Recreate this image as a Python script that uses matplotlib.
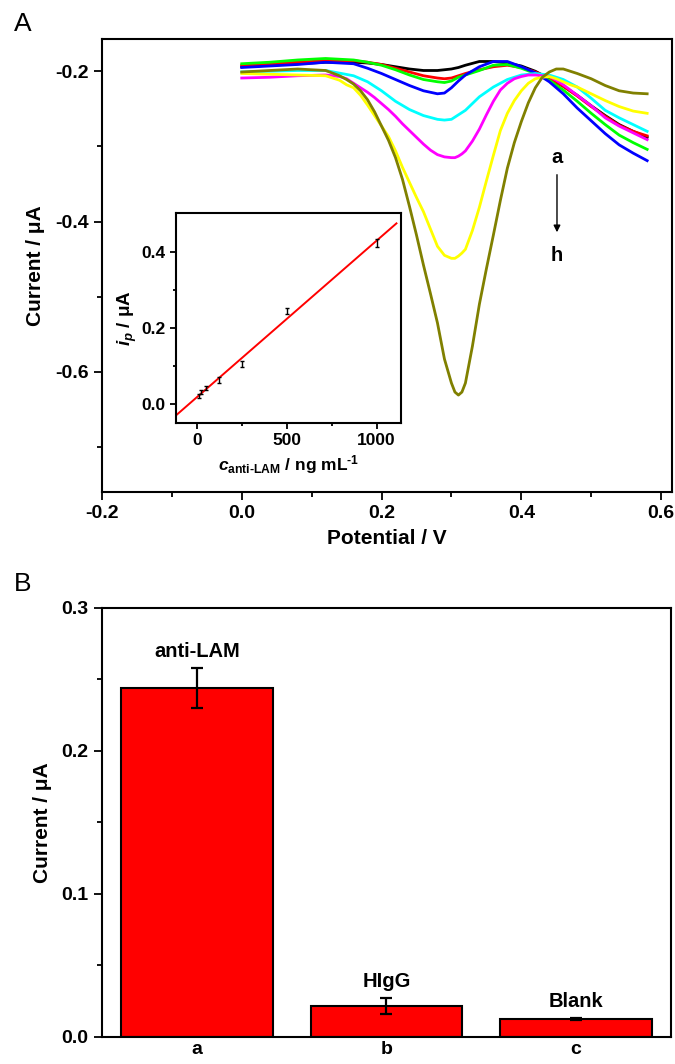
import numpy as np
import matplotlib
matplotlib.use('Agg')
import matplotlib.pyplot as plt

plt.rcParams['font.family'] = ['Liberation Sans', 'DejaVu Sans']
plt.rcParams['font.weight'] = 'bold'
plt.rcParams['axes.unicode_minus'] = False
plt.rcParams['mathtext.fontset'] = 'custom'
plt.rcParams['mathtext.it'] = 'Liberation Sans:italic:bold'
plt.rcParams['mathtext.rm'] = 'Liberation Sans:bold'
plt.rcParams['mathtext.bf'] = 'Liberation Sans:bold'

# Panel A: DPV curves a-h (potential / V, current / uA)
potential = [0.00, 0.04, 0.08, 0.12, 0.16, 0.18, 0.20, 0.22, 0.24, 0.26, 0.28, 0.29, 0.30, 0.31,
             0.32, 0.34, 0.36, 0.38, 0.40, 0.42, 0.44, 0.46, 0.48, 0.50, 0.52, 0.54, 0.56, 0.58]
curve_a = [-0.194, -0.192, -0.190, -0.188, -0.188, -0.189, -0.191, -0.194, -0.197, -0.199, -0.199, -0.198, -0.197, -0.195,
           -0.192, -0.187, -0.187, -0.189, -0.193, -0.200, -0.210, -0.220, -0.232, -0.246, -0.259, -0.271, -0.280, -0.288]
curve_b = [-0.192, -0.190, -0.188, -0.186, -0.186, -0.188, -0.191, -0.196, -0.201, -0.206, -0.209, -0.210, -0.209, -0.206,
           -0.203, -0.198, -0.194, -0.192, -0.195, -0.201, -0.209, -0.220, -0.233, -0.247, -0.260, -0.272, -0.280, -0.286]
curve_c = [-0.190, -0.188, -0.185, -0.183, -0.185, -0.188, -0.192, -0.198, -0.205, -0.211, -0.214, -0.215, -0.213, -0.208,
           -0.205, -0.199, -0.192, -0.191, -0.196, -0.203, -0.212, -0.225, -0.240, -0.256, -0.271, -0.285, -0.295, -0.304]
curve_d = [-0.195, -0.193, -0.191, -0.188, -0.190, -0.196, -0.203, -0.211, -0.219, -0.226, -0.230, -0.229, -0.222, -0.213,
           -0.205, -0.194, -0.187, -0.187, -0.194, -0.202, -0.214, -0.230, -0.249, -0.266, -0.283, -0.298, -0.309, -0.319]
curve_e = [-0.201, -0.200, -0.199, -0.199, -0.206, -0.214, -0.226, -0.240, -0.251, -0.259, -0.264, -0.265, -0.264, -0.258,
           -0.252, -0.234, -0.221, -0.211, -0.205, -0.203, -0.205, -0.211, -0.221, -0.236, -0.252, -0.262, -0.271, -0.280]

# curves f-h have sharper peaks, read at a finer step
potential_fine = [0.00, 0.04, 0.08, 0.12,
                  0.14, 0.15, 0.16, 0.17, 0.18, 0.19, 0.20, 0.21, 0.22, 0.23, 0.24, 0.25, 0.26, 0.27,
                  0.28, 0.29, 0.30, 0.305, 0.31, 0.315, 0.32, 0.33, 0.34, 0.35, 0.36, 0.37, 0.38, 0.39, 0.40, 0.41,
                  0.42, 0.43, 0.44, 0.45, 0.46, 0.47, 0.48,
                  0.50, 0.52, 0.54, 0.56, 0.58]
curve_f = [-0.209, -0.208, -0.206, -0.205,
           -0.207, -0.210, -0.216, -0.222, -0.228, -0.235, -0.243, -0.251, -0.260, -0.270, -0.279, -0.288, -0.297, -0.305,
           -0.311, -0.314, -0.315, -0.315, -0.313, -0.310, -0.306, -0.293, -0.277, -0.258, -0.240, -0.225, -0.216, -0.210, -0.207, -0.205,
           -0.205, -0.206, -0.207, -0.212, -0.218, -0.225, -0.232,
           -0.246, -0.262, -0.273, -0.282, -0.291]
curve_g = [-0.203, -0.204, -0.205, -0.206,
           -0.212, -0.218, -0.222, -0.232, -0.245, -0.259, -0.273, -0.287, -0.306, -0.328, -0.348, -0.368, -0.387, -0.410,
           -0.433, -0.445, -0.449, -0.449, -0.446, -0.442, -0.437, -0.412, -0.381, -0.346, -0.312, -0.279, -0.256, -0.239, -0.226, -0.216,
           -0.210, -0.208, -0.207, -0.210, -0.214, -0.218, -0.221,
           -0.230, -0.239, -0.247, -0.253, -0.256]
curve_h = [-0.201, -0.199, -0.197, -0.199,
           -0.206, -0.211, -0.217, -0.226, -0.238, -0.254, -0.273, -0.292, -0.315, -0.344, -0.380, -0.418, -0.458, -0.496,
           -0.535, -0.583, -0.615, -0.627, -0.631, -0.627, -0.615, -0.566, -0.510, -0.463, -0.418, -0.372, -0.329, -0.295, -0.267, -0.242,
           -0.222, -0.208, -0.201, -0.197, -0.197, -0.200, -0.203,
           -0.210, -0.219, -0.226, -0.229, -0.230]

coarse_curves = [curve_a, curve_b, curve_c, curve_d, curve_e]
coarse_colors = ['black', '#ff0000', '#00ff00', '#0000ff', '#00ffff']
fine_curves = [curve_f, curve_g, curve_h]
fine_colors = ['#ff00ff', '#ffff00', '#808000']

# Inset: calibration
conc = [10, 25, 50, 125, 250, 500, 1000]
ip = [0.021, 0.032, 0.042, 0.063, 0.106, 0.243, 0.423]
ip_err = [0.006, 0.006, 0.006, 0.008, 0.008, 0.008, 0.010]

# Panel B: selectivity
bar_labels = ['a', 'b', 'c']
bar_names = ['anti-LAM', 'HIgG', 'Blank']
bar_values = [0.244, 0.0215, 0.0125]
bar_errors = [0.014, 0.0055, 0.0008]

fig = plt.figure(figsize=(6.75, 10.64), dpi=100)

tick_kw = dict(direction='out', width=1.3)

# ---- Panel A ----
ax1 = fig.add_axes([0.151, 0.5376, 0.844, 0.4258])
for ys, col in zip(coarse_curves, coarse_colors):
    ax1.plot(potential, ys, color=col, lw=2)
for ys, col in zip(fine_curves, fine_colors):
    ax1.plot(potential_fine, ys, color=col, lw=2)
ax1.set_xlim(-0.2, 0.615)
ax1.set_ylim(-0.76, -0.157)
ax1.set_xticks([-0.2, 0.0, 0.2, 0.4, 0.6])
ax1.set_xticks([-0.1, 0.1, 0.3, 0.5], minor=True)
ax1.set_yticks([-0.2, -0.4, -0.6])
ax1.set_yticks([-0.3, -0.5, -0.7], minor=True)
ax1.tick_params(which='major', length=6, labelsize=14, **tick_kw)
ax1.tick_params(which='minor', length=3.5, **tick_kw)
ax1.set_xlabel('Potential / V', fontsize=15, fontweight='bold', labelpad=5)
ax1.set_ylabel('Current / μA', fontsize=15, fontweight='bold', labelpad=7)
for sp in ax1.spines.values():
    sp.set_linewidth(1.5)
ax1.text(0.451, -0.315, 'a', fontsize=14.5, fontweight='bold', ha='center', va='center')
ax1.text(0.451, -0.445, 'h', fontsize=14.5, fontweight='bold', ha='center', va='center')
ax1.annotate('', xy=(0.451, -0.418), xytext=(0.451, -0.334),
             arrowprops=dict(arrowstyle='-|>', color='black', lw=1, mutation_scale=10))
fig.text(0.02, 0.977, 'A', fontsize=19, fontweight='normal', va='center')

# ---- Inset ----
axi = fig.add_axes([0.261, 0.6024, 0.333, 0.197])
fit = np.polyfit(conc, ip, 1)
xfit = np.array([-120, 1110])
axi.plot(xfit, np.polyval(fit, xfit), color='#ff0000', lw=1.4)
axi.errorbar(conc, ip, yerr=ip_err, fmt='none', ecolor='black', elinewidth=1, capsize=1.5)
axi.set_xlim(-115, 1135)
axi.set_ylim(-0.05, 0.5)
axi.set_xticks([0, 500, 1000])
axi.set_xticks([250, 750], minor=True)
axi.set_yticks([0.0, 0.2, 0.4])
axi.set_yticks([0.1, 0.3], minor=True)
axi.tick_params(which='major', length=4, labelsize=12.5, **tick_kw)
axi.tick_params(which='minor', length=2.5, **tick_kw)
axi.set_xlabel(r'$c_{\mathrm{anti\text{-}LAM}}$ / ng mL$^{\text{-1}}$', fontsize=12.5, fontweight='bold', labelpad=3)
axi.set_ylabel(r'$i_p$ / μA', fontsize=13.5, fontweight='bold', labelpad=2)
for sp in axi.spines.values():
    sp.set_linewidth(1.5)

# ---- Panel B ----
ax2 = fig.add_axes([0.151, 0.0254, 0.843, 0.4032])
xpos = np.arange(1, len(bar_labels) + 1)
ax2.bar(xpos, bar_values, width=0.8, color='#ff0000', edgecolor='black', linewidth=1.5)
ax2.errorbar(xpos, bar_values, yerr=bar_errors, fmt='none', ecolor='black', elinewidth=1.6, capsize=4, capthick=1.6)
for x, v, e, name in zip(xpos, bar_values, bar_errors, bar_names):
    ax2.text(x, v + e + 0.005, name, fontsize=14.5, fontweight='bold', ha='center', va='bottom')
ax2.set_xlim(0.5, 3.5)
ax2.set_ylim(0, 0.3)
ax2.set_xticks(xpos)
ax2.set_xticklabels(bar_labels)
ax2.set_yticks([0.0, 0.1, 0.2, 0.3])
ax2.set_yticks([0.05, 0.15, 0.25], minor=True)
ax2.tick_params(axis='y', which='major', length=6, labelsize=14, **tick_kw)
ax2.tick_params(axis='y', which='minor', length=3.5, **tick_kw)
ax2.tick_params(axis='x', length=0, labelsize=14, pad=3)
ax2.set_ylabel('Current / μA', fontsize=15, fontweight='bold', labelpad=7)
for sp in ax2.spines.values():
    sp.set_linewidth(1.5)
fig.text(0.02, 0.451, 'B', fontsize=19, fontweight='normal', va='center')

fig.savefig('out.png', dpi=100)
